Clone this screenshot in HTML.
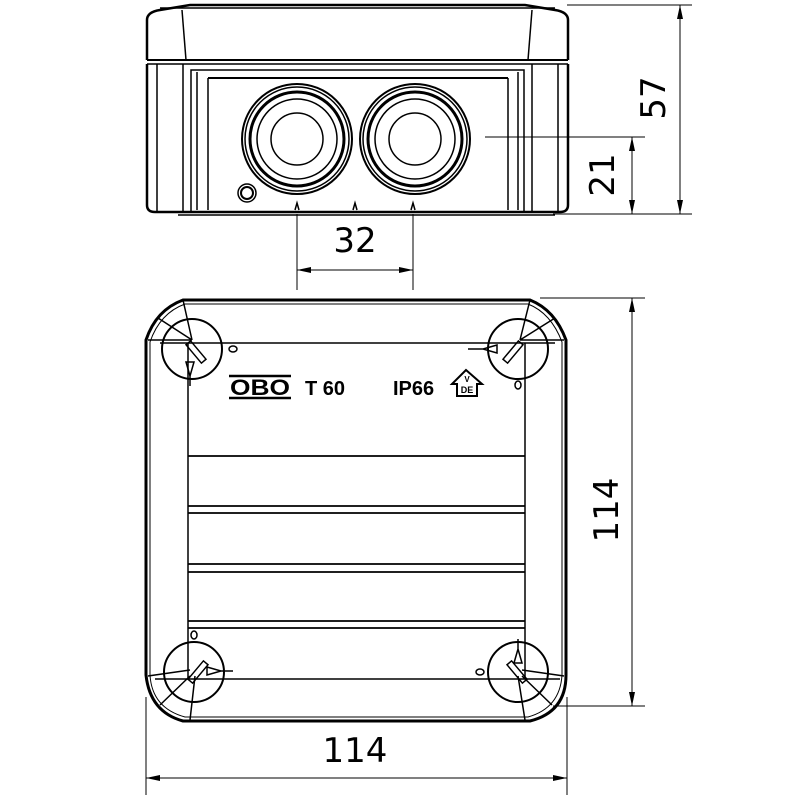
<!DOCTYPE html>
<html><head><style>body{margin:0;background:#fff}svg{display:block}</style></head><body>
<svg width="800" height="800" viewBox="0 0 800 800" xmlns="http://www.w3.org/2000/svg" fill="none" stroke="#000" stroke-width="1.5">
<!-- TOP VIEW -->
<path d="M147,60 L147,20 Q147,12 160,10 L190,5 L525,5 L555,10 Q568,12 568,20 L568,60" stroke-width="2.5"/>
<line x1="160" y1="8" x2="555" y2="8"/>
<line x1="147" y1="60" x2="568" y2="60" stroke-width="2"/>
<line x1="147" y1="64" x2="568" y2="64"/>
<line x1="182" y1="10" x2="186" y2="60"/><line x1="532" y1="10" x2="528" y2="60"/>
<path d="M147,64 L147,205 Q147,212 155,212 L560,212 Q568,212 568,205 L568,64" stroke-width="2.5"/>
<line x1="157" y1="64" x2="157" y2="212"/><line x1="558" y1="64" x2="558" y2="212"/>
<line x1="183" y1="64" x2="183" y2="212"/><line x1="532" y1="64" x2="532" y2="212"/>
<rect x="191" y="70" width="333" height="142"/>
<line x1="197" y1="72" x2="197" y2="210"/><line x1="518" y1="72" x2="518" y2="210"/>
<line x1="208" y1="78" x2="508" y2="78" stroke-width="2"/>
<line x1="208" y1="78" x2="208" y2="210"/><line x1="508" y1="78" x2="508" y2="210"/>
<line x1="178" y1="215" x2="555" y2="215"/>
<g>
<circle cx="297" cy="139" r="55" stroke-width="2"/><circle cx="297" cy="139" r="52"/><circle cx="297" cy="139" r="47" stroke-width="3"/><circle cx="297" cy="139" r="40"/><circle cx="297" cy="139" r="26"/>
<circle cx="415" cy="139" r="55" stroke-width="2"/><circle cx="415" cy="139" r="52"/><circle cx="415" cy="139" r="47" stroke-width="3"/><circle cx="415" cy="139" r="40"/><circle cx="415" cy="139" r="26"/>
</g>
<circle cx="247" cy="193" r="9" stroke-width="1.5"/><circle cx="247" cy="193" r="6" stroke-width="2"/>
<path d="M295,210 L297,203 L299,210 M353,210 L355,203 L357,210 M411,210 L413,203 L415,210"/>
<!-- dims top -->
<line x1="567" y1="5" x2="692" y2="5" stroke-width="1"/>
<line x1="553" y1="214" x2="692" y2="214" stroke-width="1"/>
<line x1="680" y1="5" x2="680" y2="214" stroke-width="1"/>
<path d="M680,5 l-3,14 l6,0 z M680,214 l-3,-14 l6,0 z" fill="#000" stroke="none"/>
<line x1="485" y1="137" x2="645" y2="137" stroke-width="1"/>
<line x1="632" y1="137" x2="632" y2="214" stroke-width="1"/>
<path d="M632,137 l-3,14 l6,0 z M632,214 l-3,-14 l6,0 z" fill="#000" stroke="none"/>
<line x1="297" y1="214" x2="297" y2="290" stroke-width="1"/><line x1="413" y1="214" x2="413" y2="290" stroke-width="1"/>
<line x1="297" y1="270" x2="413" y2="270" stroke-width="1"/>
<path d="M297,270 l14,-3 l0,6 z M413,270 l-14,-3 l0,6 z" fill="#000" stroke="none"/>
<g font-family="'DejaVu Sans','Liberation Sans',sans-serif" font-size="34" fill="#000" stroke="none">
<text x="355" y="252" text-anchor="middle">32</text>
<text transform="translate(665,98) rotate(-90)" text-anchor="middle">57</text>
<text transform="translate(614,175) rotate(-90)" text-anchor="middle">21</text>
<text transform="translate(618,510) rotate(-90)" text-anchor="middle">114</text>
<text x="355" y="762" text-anchor="middle">114</text>
</g>
<!-- BOTTOM VIEW -->
<path d="M183,300 L530,300 Q555,310 566,340 L566,675 Q566,712 530,721 L183,721 Q150,712 146,675 L146,340 Q156,310 183,300 Z" stroke-width="3"/>
<path d="M185,304 L528,304 Q551,313 562,342 L562,675 Q560,708 528,717 L185,717 Q152,708 150,675 L150,342 Q160,313 185,304 Z" stroke-width="1"/>
<line x1="188" y1="343" x2="188" y2="679"/><line x1="525" y1="343" x2="525" y2="679"/>
<line x1="160" y1="343" x2="555" y2="343"/>
<g stroke-width="1.8">
<line x1="188" y1="456" x2="525" y2="456"/>
<line x1="188" y1="506" x2="525" y2="506"/><line x1="188" y1="513" x2="525" y2="513"/>
<line x1="188" y1="564" x2="525" y2="564"/><line x1="188" y1="572" x2="525" y2="572"/>
<line x1="188" y1="621" x2="525" y2="621"/><line x1="188" y1="628" x2="525" y2="628"/>
</g>
<line x1="155" y1="679" x2="560" y2="679"/>
<g stroke-width="2">
<circle cx="192" cy="349" r="30"/><circle cx="518" cy="349" r="30"/>
<circle cx="194" cy="672" r="30"/><circle cx="518" cy="672" r="30"/>
</g>
<g stroke-width="1.5">
<rect x="-3" y="-12" width="6" height="24" transform="translate(196,352) rotate(-40)"/>
<rect x="-3" y="-12" width="6" height="24" transform="translate(513,352) rotate(40)"/>
<rect x="-3" y="-12" width="6" height="24" transform="translate(198,672) rotate(40)"/>
<rect x="-3" y="-12" width="6" height="24" transform="translate(517,672) rotate(-40)"/>
<path d="M186,362 l4,14 l4,-14 z M190,376 v10"/>
<path d="M497,345 l-14,4 l14,4 z M483,349 h-15"/>
<path d="M207,667 l14,4 l-14,4 z M221,671 h12"/>
<path d="M514,663 l4,-14 l4,14 z M518,649 v-10"/>
<ellipse cx="233" cy="349" rx="4" ry="3"/><ellipse cx="518" cy="385" rx="3" ry="4"/>
<ellipse cx="194" cy="635" rx="3" ry="4"/><ellipse cx="480" cy="672" rx="4" ry="3"/>
<path d="M183,300 L192,340 M158,318 L192,340 M148,340 L192,340"/>
<path d="M530,300 L520,340 M555,318 L520,340 M564,340 L520,340"/>
<path d="M148,676 L190,670 M160,705 L190,676 M190,720 L195,676"/>
<path d="M564,676 L522,670 M552,705 L522,676 M525,720 L518,676"/>
</g>
<!-- logo text -->
<g font-family="'Liberation Sans',sans-serif" font-weight="bold" font-size="20" fill="#000" stroke="none">
<text x="305" y="395">T 60</text>
<text x="393" y="395">IP66</text>
<text x="230" y="395" font-size="22" textLength="60" lengthAdjust="spacingAndGlyphs">OBO</text>
</g>
<line x1="229" y1="376" x2="291" y2="376" stroke-width="2.5"/><line x1="229" y1="398" x2="291" y2="398" stroke-width="2.5"/>
<path d="M452,384 L466,370 L482,384 L477,384 L477,396 L457,396 L457,384 Z" stroke-width="2"/>
<text x="467" y="393" font-family="'Liberation Sans',sans-serif" font-weight="bold" font-size="9" fill="#000" stroke="none" text-anchor="middle">DE</text>
<text x="467" y="382" font-family="'Liberation Sans',sans-serif" font-weight="bold" font-size="8" fill="#000" stroke="none" text-anchor="middle">V</text>
<!-- dims bottom -->
<line x1="540" y1="298" x2="645" y2="298" stroke-width="1"/>
<line x1="553" y1="706" x2="645" y2="706" stroke-width="1"/>
<line x1="632" y1="298" x2="632" y2="706" stroke-width="1"/>
<path d="M632,298 l-3,14 l6,0 z M632,706 l-3,-14 l6,0 z" fill="#000" stroke="none"/>
<line x1="146" y1="697" x2="146" y2="795" stroke-width="1"/><line x1="567" y1="697" x2="567" y2="795" stroke-width="1"/>
<line x1="146" y1="778" x2="567" y2="778" stroke-width="1"/>
<path d="M146,778 l14,-3 l0,6 z M567,778 l-14,-3 l0,6 z" fill="#000" stroke="none"/>
</svg>
</body></html>
